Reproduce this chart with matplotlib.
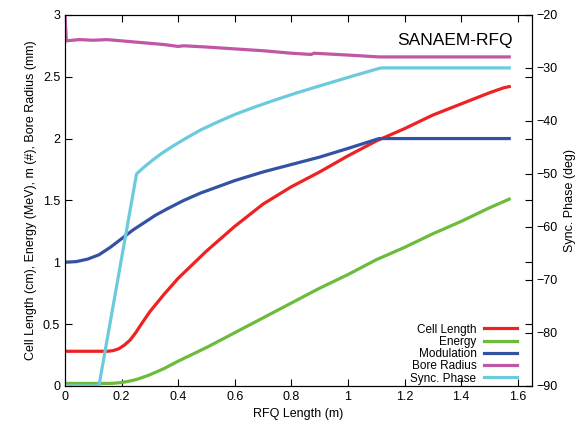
import matplotlib
matplotlib.use("Agg")
import matplotlib.pyplot as plt
from matplotlib.ticker import FuncFormatter

plt.rcParams['font.family'] = ['Liberation Sans', 'DejaVu Sans']

# values
cell_x = [0, 0.1, 0.15, 0.17, 0.19, 0.21, 0.23, 0.25, 0.27, 0.3, 0.35, 0.4,
          0.45, 0.5, 0.6, 0.7, 0.8, 0.9, 1.0, 1.1, 1.2, 1.3, 1.4, 1.5, 1.55,
          1.57]
cell_len = [0.28, 0.28, 0.28, 0.285, 0.30, 0.33, 0.37, 0.43, 0.50, 0.60, 0.74,
            0.87, 0.98, 1.09, 1.29, 1.47, 1.61, 1.73, 1.86, 1.98, 2.08, 2.19,
            2.28, 2.37, 2.41, 2.42]

energy_x = [0, 0.15, 0.17, 0.2, 0.22, 0.25, 0.27, 0.3, 0.35, 0.4, 0.5, 0.6,
            0.7, 0.8, 0.9, 1.0, 1.1, 1.2, 1.3, 1.4, 1.5, 1.57]
energy = [0.02, 0.02, 0.021, 0.027, 0.035, 0.05, 0.065, 0.09, 0.14, 0.20, 0.31,
          0.43, 0.55, 0.67, 0.79, 0.90, 1.02, 1.12, 1.23, 1.33, 1.44, 1.51]

mod_x = [0, 0.04, 0.08, 0.12, 0.16, 0.2, 0.24, 0.28, 0.32, 0.36, 0.42, 0.48,
         0.54, 0.6, 0.7, 0.8, 0.9, 1.0, 1.11, 1.57]
modulation = [1.0, 1.005, 1.025, 1.06, 1.12, 1.19, 1.26, 1.32, 1.38, 1.43,
              1.50, 1.56, 1.61, 1.66, 1.73, 1.79, 1.85, 1.92, 2.0, 2.0]

bore_x = [0, 0.005, 0.05, 0.1, 0.15, 0.2, 0.25, 0.3, 0.35, 0.4, 0.42, 0.5, 0.6,
          0.7, 0.8, 0.87, 0.88, 1.0, 1.11, 1.57]
bore = [3.0, 2.79, 2.80, 2.795, 2.80, 2.79, 2.78, 2.77, 2.76, 2.745, 2.75,
        2.74, 2.725, 2.71, 2.69, 2.68, 2.69, 2.675, 2.66, 2.66]

phase_x = [0, 0.12, 0.253, 0.28, 0.31, 0.34, 0.38, 0.43, 0.48, 0.54, 0.6, 0.67,
           0.74, 0.82, 0.9, 1.0, 1.11, 1.12, 1.57]
phase = [-90, -90, -50, -48.7, -47.4, -46.2, -44.8, -43.2, -41.7, -40.2, -38.8,
         -37.4, -36.1, -34.7, -33.4, -31.8, -30.1, -30, -30]

x_ticks = [0, 0.2, 0.4, 0.6, 0.8, 1.0, 1.2, 1.4, 1.6]
y_ticks = [0, 0.5, 1, 1.5, 2, 2.5, 3]
phase_ticks = [-90, -80, -70, -60, -50, -40, -30, -20]

fig = plt.figure(figsize=(5.8, 4.25), dpi=100)
ax = fig.add_axes([0.112, 0.092, 0.805, 0.873])
ax2 = ax.twinx()

lw = 2.3
l1, = ax.plot(cell_x, cell_len, color='#ee2222', lw=lw, label='Cell Length')
l2, = ax.plot(energy_x, energy, color='#6cbb3c', lw=lw, label='Energy')
l3, = ax.plot(mod_x, modulation, color='#3452a4', lw=lw, label='Modulation')
l4, = ax.plot(bore_x, bore, color='#c056a6', lw=lw, label='Bore Radius')
l5, = ax2.plot(phase_x, phase, color='#6bcbdc', lw=lw, label='Sync. Phase')

ax.set_xlim(0, 1.65)
ax.set_ylim(0, 3)
ax2.set_ylim(-90, -20)
ax.set_xticks(x_ticks)
ax.set_yticks(y_ticks)
ax2.set_yticks(phase_ticks)
fmt = FuncFormatter(lambda v, p: f'{v:g}')
ax.xaxis.set_major_formatter(fmt)
ax.yaxis.set_major_formatter(fmt)

ax.tick_params(direction='in', top=True, right=True, labelsize=9, length=5)
ax2.tick_params(direction='in', labelsize=9, length=5)

ax.set_xlabel('RFQ Length (m)', fontsize=9)
ax.set_ylabel('Cell Length (cm), Energy (MeV), m (#), Bore Radius (mm)', fontsize=9)
ax2.set_ylabel('Sync. Phase (deg)', fontsize=9)

ax.text(0.96, 0.95, 'SANAEM-RFQ', transform=ax.transAxes, ha='right',
        va='top', fontsize=12.5)

ax.legend(handles=[l1, l2, l3, l4, l5], loc='lower right', frameon=False,
          markerfirst=False, fontsize=8.5, labelspacing=0.02, handlelength=2.8,
          handletextpad=0.6, bbox_to_anchor=(0.99, -0.025))

fig.savefig('out.png', dpi=100)
